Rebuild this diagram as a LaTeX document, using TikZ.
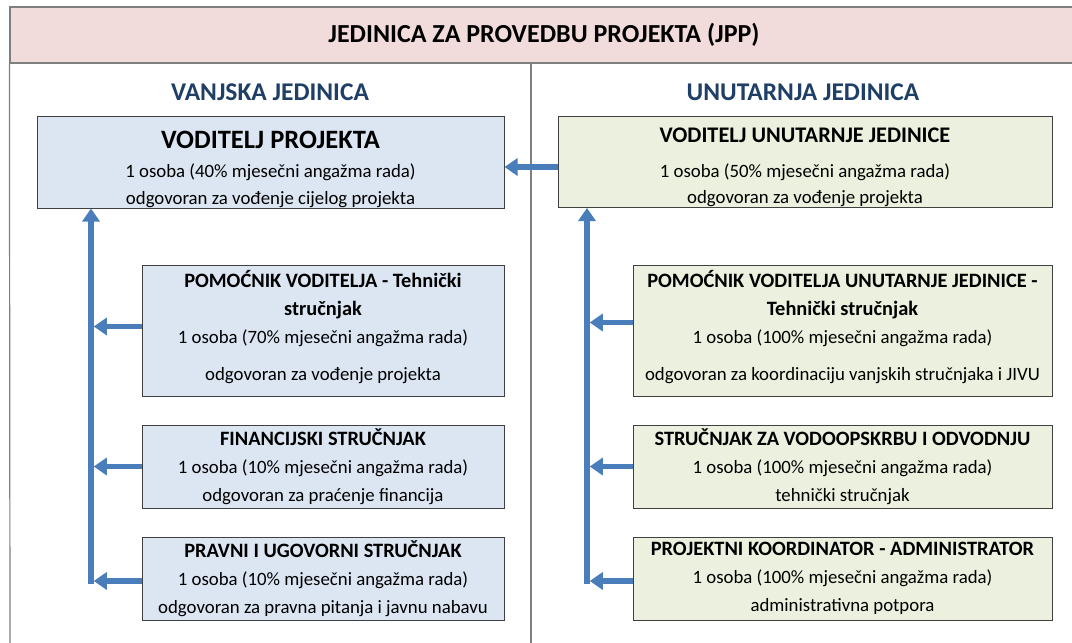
\documentclass[tikz,border=0pt]{standalone}
\usepackage{fontspec}
\setmainfont{Carlito}
\usetikzlibrary{arrows.meta}
\definecolor{bandpink}{HTML}{F2DCDB}
\definecolor{framegrey}{HTML}{7F7F7F}
\definecolor{bluebox}{HTML}{DCE6F2}
\definecolor{greenbox}{HTML}{EBF1DE}
\definecolor{arrowblue}{HTML}{4A7EBB}
\definecolor{headblue}{HTML}{1F3F66}
\begin{document}
\begin{tikzpicture}[x=1pt,y=-1pt,
  box/.style={draw=black!75, line width=1pt, align=center, inner sep=0pt,
    font=\fontsize{18.8}{28}\selectfont},
  lbox/.style={box, fill=bluebox},
  rbox/.style={box, fill=greenbox},
  boxtext/.style={align=center, inner sep=0pt, font=\fontsize{18.8}{28}\selectfont},
  head/.style={text=headblue, font=\bfseries\fontsize{25.5}{28}\selectfont},
  conn/.style={draw=arrowblue, line width=5.5pt, -{Triangle[width=17pt,length=13pt]}},
  frameline/.style={draw=framegrey, line width=1.2pt}
]
\newcommand{\subt}[1]{{\bfseries\fontsize{20.4}{28}\selectfont #1}}
\useasboundingbox (0,0) rectangle (1072,643);
\clip (0,0) rectangle (1072,643);
\fill[white] (0,0) rectangle (1072,643);

% title band
\node[draw=framegrey, line width=1.2pt, fill=bandpink, minimum width=1070pt, minimum height=56pt,
  inner sep=0pt, font=\bfseries\fontsize{26}{28}\selectfont] (band) at (545,35)
  {\hspace*{-2pt}JEDINICA ZA PROVEDBU PROJEKTA (JPP)};
\draw[frameline] (band.south west) -- (10,643);
\draw[frameline] (531,63) -- (531,643);

% headings
\node[head] (vanj) at (270,92) {VANJSKA JEDINICA};
\node[head] (unut) at (803,92) {UNUTARNJA JEDINICA};

% top boxes
\node[lbox, minimum width=467pt, minimum height=92pt] (vp) at (270.5,162) {};
\node[boxtext] (vpt) at ([yshift=-7pt]vp.center)
  {{\bfseries\fontsize{26.5}{30}\selectfont VODITELJ PROJEKTA}\\[1pt]
   1 osoba (40\% mjesečni angažma rada)\\[-1pt]
   odgovoran za vođenje cijelog projekta};
\node[rbox, minimum width=494pt, minimum height=91pt] (vuj) at (805,162) {};
\node[boxtext] (vujt) at ([yshift=-5.5pt]vuj.center)
  {{\bfseries\fontsize{22.3}{30}\selectfont VODITELJ UNUTARNJE JEDINICE}\\[7pt]
   1 osoba (50\% mjesečni angažma rada)\\[-2pt]
   odgovoran za vođenje projekta};

% left sub boxes
\node[lbox, minimum width=362pt, minimum height=131pt] (lb1) at (323,330.5) {};
\node[boxtext] (lb1t) at ([yshift=3pt]lb1.center)
  {\subt{POMOĆNIK VODITELJA - Tehnički}\\
   \subt{stručnjak}\\
   1 osoba (70\% mjesečni angažma rada)\\[9pt]
   odgovoran za vođenje projekta};
\node[lbox, minimum width=362pt, minimum height=83pt] (lb2) at (323,466.5)
  {\subt{FINANCIJSKI STRUČNJAK}\\
   1 osoba (10\% mjesečni angažma rada)\\
   odgovoran za praćenje financija};
\node[lbox, minimum width=362pt, minimum height=83pt] (lb3) at (323,578.5)
  {\subt{PRAVNI I UGOVORNI STRUČNJAK}\\
   1 osoba (10\% mjesečni angažma rada)\\
   odgovoran za pravna pitanja i javnu nabavu};

% right sub boxes
\node[rbox, minimum width=419pt, minimum height=131pt] (rb1) at (842.5,330.5) {};
\node[boxtext] (rb1t) at ([yshift=3pt]rb1.center)
  {\subt{POMOĆNIK VODITELJA UNUTARNJE JEDINICE -}\\
   \subt{Tehnički stručnjak}\\
   1 osoba (100\% mjesečni angažma rada)\\[9pt]
   odgovoran za koordinaciju vanjskih stručnjaka i JIVU};
\node[rbox, minimum width=419pt, minimum height=83pt] (rb2) at (842.5,466.5)
  {\subt{STRUČNJAK ZA VODOOPSKRBU I ODVODNJU}\\
   1 osoba (100\% mjesečni angažma rada)\\
   tehnički stručnjak};
\node[rbox, minimum width=419pt, minimum height=83pt] (rb3) at (842.5,578.5)
  {\subt{PROJEKTNI KOORDINATOR - ADMINISTRATOR}\\
   1 osoba (100\% mjesečni angažma rada)\\
   administrativna potpora};

% connectors
\coordinate (lbot) at (91,583.5);
\coordinate (rbot) at (587,583.5);
\draw[conn] (lbot) -- (lbot |- vp.south);
\draw[conn] (rbot) -- (rbot |- vuj.south);
\draw[conn] ([yshift=4pt]lb1.west) -- ([yshift=4pt,xshift=2.75pt]lb1.west -| lbot);
\draw[conn] (lb2.west) -- ([xshift=2.75pt]lb2.west -| lbot);
\draw[conn] ([yshift=-2.5pt]lb3.west) -- ([yshift=-2.5pt,xshift=2.75pt]lb3.west -| lbot);
\draw[conn] ([yshift=8pt]rb1.west) -- ([yshift=8pt,xshift=2.75pt]rb1.west -| rbot);
\draw[conn] (rb2.west) -- ([xshift=2.75pt]rb2.west -| rbot);
\draw[conn] ([yshift=-2.5pt]rb3.west) -- ([yshift=-2.5pt,xshift=2.75pt]rb3.west -| rbot);
\draw[conn] ([yshift=-5pt]vuj.west) -- ([yshift=-5pt]vp.east);
\end{tikzpicture}
\end{document}
